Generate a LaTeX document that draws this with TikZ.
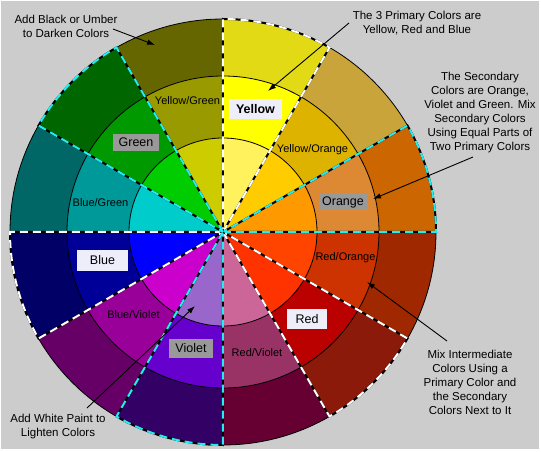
\documentclass[tikz,border=0pt]{standalone}
\usepackage{fontspec}
\setmainfont{Liberation Sans}
\usetikzlibrary{arrows.meta}
\definecolor{bggray}{HTML}{CCCCCC}
\definecolor{boxwhite}{HTML}{EEEEFA}
\definecolor{boxgray}{HTML}{999999}
\definecolor{dcyan}{HTML}{22EEF2}
\tikzset{
  annot/.style={align=center, inner sep=0pt, font=\fontsize{11.5}{14}\selectfont, text=black},
  seglabel/.style={inner sep=0pt, font=\fontsize{11}{13}\selectfont, text=black},
  whitebox/.style={fill=boxwhite, inner sep=0pt, font=\fontsize{12.5}{14}\selectfont, text=black},
  graybox/.style={fill=boxgray, inner sep=0pt, font=\fontsize{12.5}{14}\selectfont, text=black},
  pointer/.style={-{Latex[length=8pt,width=5.5pt]}, line width=0.9pt, black},
  ring/.style={draw=black, line width=0.8pt},
}
\newcommand{\wedgefill}[3]{%
  \definecolor{wedgecol}{HTML}{#1}%
  \fill[wedgecol] (0,0) -- (#2:#3) arc[start angle=#2, end angle=#2+30, radius=#3] -- cycle;}
\newcommand{\sector}[4]{%
  \wedgefill{#2}{#1}{213}\wedgefill{#3}{#1}{156}\wedgefill{#4}{#1}{94}}
\newcommand{\outline}[2]{%
  \draw[black, line width=2pt, line join=miter] (0,0) -- (#1:213) arc[start angle=#1, end angle=#1+30, radius=213] -- cycle;
  \draw[#2, line width=2pt, dash pattern=on 8pt off 5pt] (0,0) -- (#1:213) arc[start angle=#1, end angle=#1+30, radius=213] -- cycle;}
\begin{document}
\begin{tikzpicture}[x=1pt,y=1pt]
\useasboundingbox (-223,-220) rectangle (318,232);
\fill[white] (-223,-220) rectangle (318,232);
\fill[bggray] (-222,-217) rectangle (315.5,231);
% sectors: start angle, outer, middle, inner
\sector{60}{E2DA14}{FFFF00}{FFF25C}
\sector{30}{C8A43A}{DDB300}{FFCC00}
\sector{0}{CC6600}{DD8833}{FF9900}
\sector{-30}{A02800}{CC3300}{FF4400}
\sector{-60}{8B1A0A}{BB0000}{FF3300}
\sector{-90}{660033}{993366}{CC6699}
\sector{-120}{330066}{6600CC}{9966CC}
\sector{-150}{660066}{990099}{CC00CC}
\sector{180}{000066}{000099}{0000FF}
\sector{150}{006666}{009999}{00CCCC}
\sector{120}{006600}{009900}{00CC00}
\sector{90}{666600}{999900}{CCCC00}
\draw[ring] (0,0) circle[radius=94];
\draw[ring] (0,0) circle[radius=156];
\draw[ring] (0,0) circle[radius=213];
% dashed outlines
\outline{60}{white}
\outline{-60}{white}
\outline{180}{white}
\outline{0}{dcyan}
\outline{-120}{dcyan}
\outline{120}{dcyan}
% boxed colour names
\node[whitebox, minimum width=53pt, minimum height=20pt] (yellow) at (32.5,123) {\textbf{Yellow}};
\node[graybox, minimum width=46pt, minimum height=17pt] (green) at (-87,89.5) {Green};
\node[graybox, minimum width=48pt, minimum height=16pt] (orange) at (120,30) {Orange};
\node[whitebox, minimum width=40pt, minimum height=20pt] (red) at (84,-87) {Red};
\node[graybox, minimum width=44pt, minimum height=19pt] (violet) at (-32,-116.5) {Violet};
\node[whitebox, minimum width=51pt, minimum height=21pt] (blue) at (-120.5,-28.5) {Blue};
% intermediate labels
\node[seglabel] (yg) at (-35.5,131) {Yellow/Green};
\node[seglabel] (yo) at (89.5,82) {Yellow/Orange};
\node[seglabel] (bg) at (-122.5,29) {Blue/Green};
\node[seglabel] (ro) at (122.5,-26) {Red/Orange};
\node[seglabel] (bv) at (-89.5,-83) {Blue/Violet};
\node[seglabel] (rv) at (34,-120.7) {Red/Violet};
% annotations
\node[annot] (a1) at (-157,206) {Add Black or Umber\\to Darken Colors};
\node[annot] (a2) at (194,209) {The 3 Primary Colors are\\Yellow, Red and Blue};
\node[annot] (a3) at (257,119.5) {The Secondary\\Colors are Orange,\\Violet and Green. Mix\\Secondary Colors\\Using Equal Parts of\\Two Primary Colors};
\node[annot] (a4) at (247,-150) {Mix Intermediate\\Colors Using a\\Primary Color and\\the Secondary\\Colors Next to It};
\node[annot] (a5) at (-165,-194.5) {Add White Paint to\\Lighten Colors};
\coordinate (t1) at (-68,187);
\coordinate (t2) at (45,141);
\coordinate (t3) at (150,33);
\coordinate (t4) at (144,-50);
\coordinate (t5) at (-28,-74);
\coordinate (s1) at (-110,203);
\coordinate (s2) at (126,209);
\coordinate (s3) at (250,75);
\coordinate (s4) at (224,-109);
\coordinate (s5) at (-136,-176);
\draw[pointer] (s1) -- (t1);
\draw[pointer] (s2) -- (t2);
\draw[pointer] (s3) -- (t3);
\draw[pointer] (s4) -- (t4);
\draw[pointer] (s5) -- (t5);
\end{tikzpicture}
\end{document}
